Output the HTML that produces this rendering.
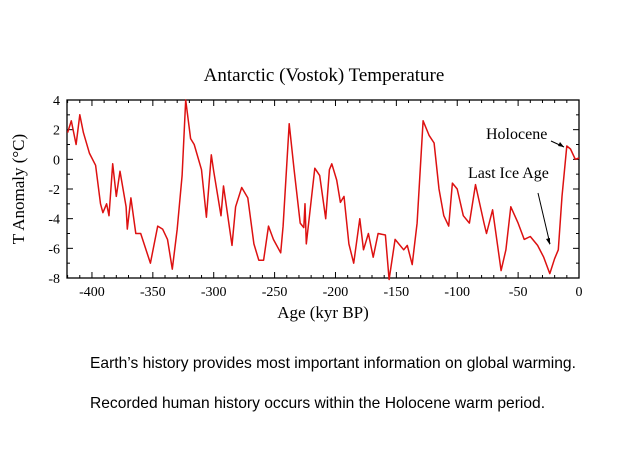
<!DOCTYPE html>
<html><head><meta charset="utf-8"><style>
body{margin:0;background:#fff;width:624px;height:468px;overflow:hidden;position:relative}
.note{position:absolute;left:90px;font-family:"Liberation Sans",sans-serif;font-size:15.6px;color:#000}
</style></head><body>
<svg id="chart" width="624" height="468" style="position:absolute;left:0;top:0" font-family="Liberation Serif, serif">
<text x="324" y="81" font-size="19" text-anchor="middle">Antarctic (Vostok) Temperature</text>
<text x="323" y="318" font-size="17" text-anchor="middle">Age (kyr BP)</text>
<text transform="translate(24,189) rotate(-90)" font-size="17" text-anchor="middle">T Anomaly (°C)</text>
<g id="axes"></g>
<path id="series" fill="none" stroke="#dd1111" stroke-width="1.5" stroke-linejoin="round"/>
<text x="486" y="139" font-size="16">Holocene</text>
<line x1="551" y1="141" x2="564" y2="147" stroke="#000" stroke-width="1"/>
<path d="M564 147 l-6 -1 l2 -4 z" fill="#000"/>
<text x="468" y="178" font-size="16">Last Ice Age</text>
<line x1="538" y1="193" x2="550" y2="244" stroke="#000" stroke-width="1"/>
<path d="M550 245 l-4 -6 l4 -1 z" fill="#000"/>
</svg>
<div class="note" style="top:355px">Earth’s history provides most important information on global warming.</div>
<div class="note" style="top:395px">Recorded human history occurs within the Holocene warm period.</div>
<script>
const ages=[-420,-417,-413,-410,-407,-402,-397,-393,-391,-388,-386,-383,-380,-377,-372,-371,-368,-364,-360,-352,-346,-342,-338,-334,-330,-326,-323,-319,-316,-310,-306,-302,-300,-294,-292,-285,-282,-277,-272,-267,-263,-259,-255,-251,-245,-243,-238,-234,-229,-226,-225,-224,-217,-213,-208,-205,-203,-199,-196,-193,-189,-185,-180,-177,-173,-169,-165,-159,-156,-151,-144,-141,-137,-133,-128,-123,-119,-115,-111,-107,-104,-100,-95,-90,-85,-78,-76,-71,-64,-60,-56,-50,-45,-40,-34,-29,-24,-20,-17,-14,-10,-7,-3,0];
const temps=[1.8,2.6,1,3,1.8,0.4,-0.4,-3,-3.6,-3,-3.8,-0.3,-2.5,-0.8,-3.2,-4.7,-2.6,-5,-5,-7,-4.5,-4.7,-5.4,-7.4,-4.7,-1.1,4,1.4,1,-0.7,-3.9,0.3,-0.8,-3.8,-1.8,-5.8,-3.2,-1.9,-2.6,-5.7,-6.8,-6.8,-4.5,-5.4,-6.3,-4.5,2.4,-0.7,-4.3,-4.6,-3,-5.7,-0.6,-1.1,-4,-0.7,-0.3,-1.4,-2.9,-2.5,-5.7,-7,-4,-6.1,-5,-6.6,-5,-5.1,-8.1,-5.4,-6.1,-5.8,-7.1,-4.3,2.6,1.6,1.1,-2,-3.8,-4.5,-1.6,-2,-3.8,-4.3,-1.7,-4.3,-5,-3.4,-7.5,-6.1,-3.2,-4.3,-5.4,-5.2,-5.8,-6.6,-7.7,-6.7,-6.1,-2.5,0.9,0.7,0,0.1];
const xTicks=[-400,-350,-300,-250,-200,-150,-100,-50,0];
const yTicks=[-8,-6,-4,-2,0,2,4];
const X0=67,X1=579,Y0=278,Y1=100;
const xs=a=>X0+(a+420.5)/420.5*(X1-X0);
const ys=t=>Y0-(t+8)/12*(Y0-Y1);
const NS='http://www.w3.org/2000/svg';
const g=document.getElementById('axes');
function el(t,a){const e=document.createElementNS(NS,t);for(const k in a)e.setAttribute(k,a[k]);g.appendChild(e);return e;}
const fr=el('rect',{x:X0,y:Y1,width:X1-X0,height:Y0-Y1,fill:'none',stroke:'#000','stroke-width':1.3});


for(let a=-420;a<=0;a+=10){const maj=a%50===0,L=maj?6:3,x=xs(a);
 el('line',{x1:x,y1:Y0,x2:x,y2:Y0-L,stroke:'#000'});el('line',{x1:x,y1:Y1,x2:x,y2:Y1+L,stroke:'#000'});}
for(let t=-8;t<=4;t+=1){const maj=t%2===0,L=maj?6:3,y=ys(t);
 el('line',{x1:X0,y1:y,x2:X0+L,y2:y,stroke:'#000'});el('line',{x1:X1,y1:y,x2:X1-L,y2:y,stroke:'#000'});}
xTicks.forEach(v=>{const t=el('text',{x:xs(v),y:Y0+18,'font-size':14,'text-anchor':'middle'});t.textContent=v;
 
 });
yTicks.forEach(v=>{const t=el('text',{x:X0-7,y:ys(v)+5,'font-size':14,'text-anchor':'end'});t.textContent=v;
 
 });
document.getElementById('series').setAttribute('d',ages.map((a,i)=>(i?'L':'M')+xs(a).toFixed(1)+' '+ys(temps[i]).toFixed(1)).join(' '));
</script>
</body></html>
